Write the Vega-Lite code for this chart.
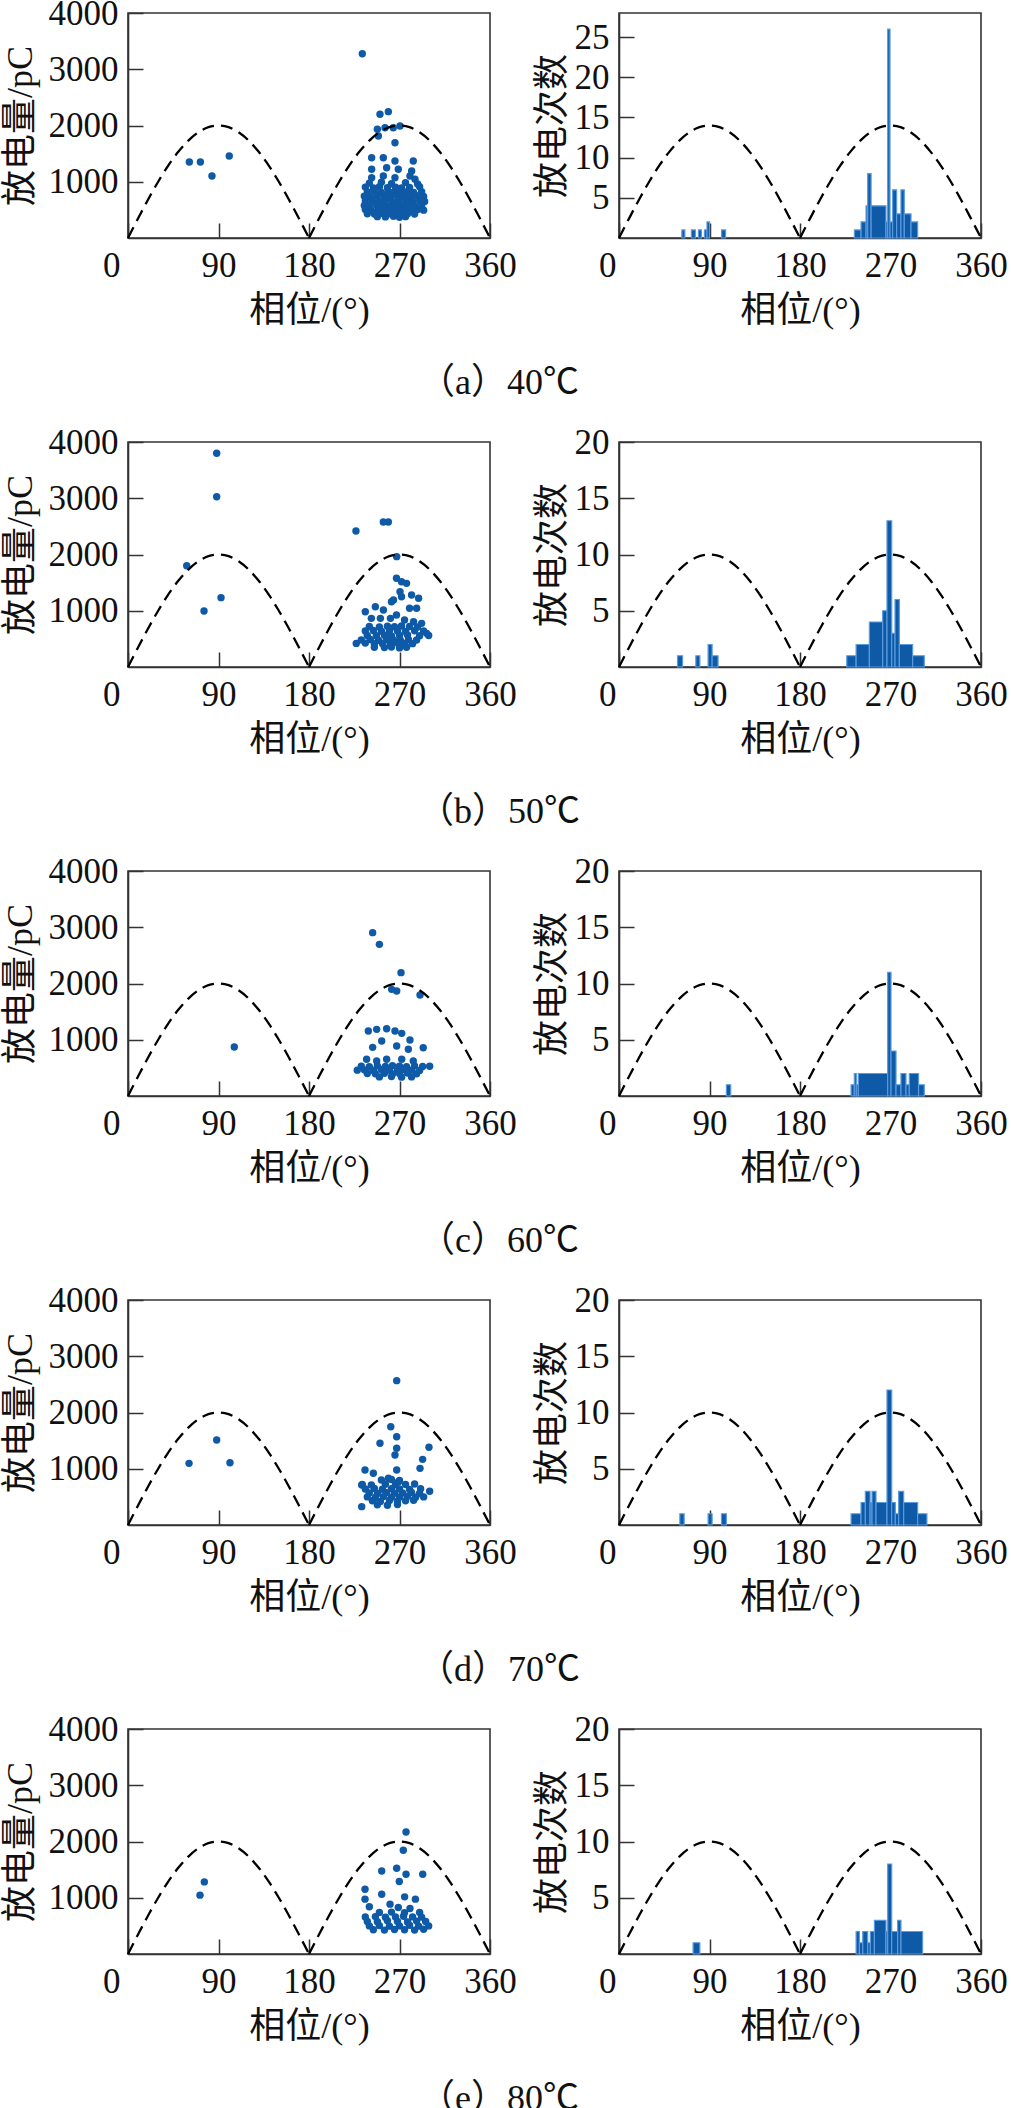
{
"$schema":"https://vega.github.io/schema/vega-lite/v6.json",
"background":"white",
"padding":{"left":1,"top":-5,"right":0,"bottom":0},
"autosize":{"type":"pad"},
"config":{
 "view":{"stroke":"#333","strokeWidth":1.6},
 "axis":{"grid":false,"labelFont":"'Liberation Serif', 'Times New Roman', serif","labelFontSize":35,"labelColor":"#111","titleFont":"'Liberation Serif', 'Times New Roman', 'Noto Sans CJK SC', serif","titleFontSize":36,"titleFontWeight":"normal","titleColor":"#111","tickColor":"#333","tickSize":-15,"tickWidth":1.5,"labelPadding":25,"domainColor":"#333","domainWidth":1.6,"labelFlush":false,"labelOverlap":false,"format":"d"},
 "title":{"font":"'Liberation Serif', 'Times New Roman', 'Noto Sans CJK SC', serif","fontSize":36,"fontWeight":"normal","color":"#111"}
},
"datasets":{
"sine":[
{"hump":1,"phase":0,"q":0,"c14":0,"c10":0},{"hump":1,"phase":10,"q":347,"c14":2.43,"c10":1.74},{"hump":1,"phase":20,"q":684,"c14":4.79,"c10":3.42},{"hump":1,"phase":30,"q":1000,"c14":7,"c10":5},{"hump":1,"phase":40,"q":1286,"c14":9,"c10":6.43},{"hump":1,"phase":50,"q":1532,"c14":10.72,"c10":7.66},{"hump":1,"phase":60,"q":1732,"c14":12.12,"c10":8.66},{"hump":1,"phase":70,"q":1879,"c14":13.16,"c10":9.4},{"hump":1,"phase":80,"q":1970,"c14":13.79,"c10":9.85},{"hump":1,"phase":90,"q":2000,"c14":14,"c10":10},{"hump":1,"phase":100,"q":1970,"c14":13.79,"c10":9.85},{"hump":1,"phase":110,"q":1879,"c14":13.16,"c10":9.4},{"hump":1,"phase":120,"q":1732,"c14":12.12,"c10":8.66},{"hump":1,"phase":130,"q":1532,"c14":10.72,"c10":7.66},{"hump":1,"phase":140,"q":1286,"c14":9,"c10":6.43},{"hump":1,"phase":150,"q":1000,"c14":7,"c10":5},{"hump":1,"phase":160,"q":684,"c14":4.79,"c10":3.42},{"hump":1,"phase":170,"q":347,"c14":2.43,"c10":1.74},{"hump":1,"phase":180,"q":0,"c14":0,"c10":0},
{"hump":2,"phase":180,"q":0,"c14":0,"c10":0},{"hump":2,"phase":190,"q":347,"c14":2.43,"c10":1.74},{"hump":2,"phase":200,"q":684,"c14":4.79,"c10":3.42},{"hump":2,"phase":210,"q":1000,"c14":7,"c10":5},{"hump":2,"phase":220,"q":1286,"c14":9,"c10":6.43},{"hump":2,"phase":230,"q":1532,"c14":10.72,"c10":7.66},{"hump":2,"phase":240,"q":1732,"c14":12.12,"c10":8.66},{"hump":2,"phase":250,"q":1879,"c14":13.16,"c10":9.4},{"hump":2,"phase":260,"q":1970,"c14":13.79,"c10":9.85},{"hump":2,"phase":270,"q":2000,"c14":14,"c10":10},{"hump":2,"phase":280,"q":1970,"c14":13.79,"c10":9.85},{"hump":2,"phase":290,"q":1879,"c14":13.16,"c10":9.4},{"hump":2,"phase":300,"q":1732,"c14":12.12,"c10":8.66},{"hump":2,"phase":310,"q":1532,"c14":10.72,"c10":7.66},{"hump":2,"phase":320,"q":1286,"c14":9,"c10":6.43},{"hump":2,"phase":330,"q":1000,"c14":7,"c10":5},{"hump":2,"phase":340,"q":684,"c14":4.79,"c10":3.42},{"hump":2,"phase":350,"q":347,"c14":2.43,"c10":1.74},{"hump":2,"phase":360,"q":0,"c14":0,"c10":0}
],
"hist":[
{"g":"a","p0":62.5,"p1":65.5,"n":1},{"g":"a","p0":72,"p1":76,"n":1},{"g":"a","p0":79,"p1":82,"n":1},{"g":"a","p0":85,"p1":87.5,"n":1},{"g":"a","p0":87.5,"p1":90,"n":2},{"g":"a","p0":102,"p1":106,"n":1},
{"g":"a","p0":234.1,"p1":240.7,"n":1},{"g":"a","p0":240.7,"p1":245.7,"n":2},{"g":"a","p0":245.7,"p1":247.3,"n":4},{"g":"a","p0":247.3,"p1":250.7,"n":8},{"g":"a","p0":250.7,"p1":265.5,"n":4},{"g":"a","p0":265.5,"p1":267.2,"n":2},{"g":"a","p0":267.2,"p1":269.5,"n":26},{"g":"a","p0":269.5,"p1":272.1,"n":2},{"g":"a","p0":272.1,"p1":276.1,"n":6},{"g":"a","p0":276.1,"p1":280.4,"n":3},{"g":"a","p0":280.4,"p1":283.7,"n":6},{"g":"a","p0":283.7,"p1":290.4,"n":3},{"g":"a","p0":290.4,"p1":297,"n":2},
{"g":"b","p0":58.2,"p1":63.2,"n":1},{"g":"b","p0":76.4,"p1":80.4,"n":1},{"g":"b","p0":88.6,"p1":92.6,"n":2},{"g":"b","p0":92.6,"p1":98.5,"n":1},
{"g":"b","p0":226.5,"p1":235.8,"n":1},{"g":"b","p0":235.8,"p1":249,"n":2},{"g":"b","p0":249,"p1":262.2,"n":4},{"g":"b","p0":262.2,"p1":266.5,"n":5},{"g":"b","p0":266.5,"p1":271.2,"n":13},{"g":"b","p0":271.2,"p1":274.5,"n":3},{"g":"b","p0":274.5,"p1":278.8,"n":6},{"g":"b","p0":278.8,"p1":292,"n":2},{"g":"b","p0":292,"p1":303.6,"n":1},
{"g":"c","p0":106.8,"p1":111.1,"n":1},
{"g":"c","p0":230.8,"p1":234,"n":1},{"g":"c","p0":234,"p1":236,"n":2},{"g":"c","p0":236,"p1":238,"n":1},{"g":"c","p0":238,"p1":267.2,"n":2},{"g":"c","p0":267.2,"p1":270.5,"n":11},{"g":"c","p0":270.5,"p1":275.5,"n":4},{"g":"c","p0":275.5,"p1":280.4,"n":1},{"g":"c","p0":280.4,"p1":285.4,"n":2},{"g":"c","p0":285.4,"p1":288.7,"n":1},{"g":"c","p0":288.7,"p1":297.9,"n":2},{"g":"c","p0":297.9,"p1":303.6,"n":1},
{"g":"d","p0":60.5,"p1":64.8,"n":1},{"g":"d","p0":88.6,"p1":92.6,"n":1},{"g":"d","p0":101.9,"p1":106.8,"n":1},
{"g":"d","p0":230.8,"p1":240.7,"n":1},{"g":"d","p0":240.7,"p1":245,"n":2},{"g":"d","p0":245,"p1":249.7,"n":3},{"g":"d","p0":249.7,"p1":251.6,"n":2},{"g":"d","p0":251.6,"p1":255.6,"n":3},{"g":"d","p0":255.6,"p1":266.5,"n":2},{"g":"d","p0":266.5,"p1":271.2,"n":12},{"g":"d","p0":271.2,"p1":274.8,"n":2},{"g":"d","p0":274.8,"p1":278.1,"n":1},{"g":"d","p0":278.1,"p1":283.1,"n":3},{"g":"d","p0":283.1,"p1":297,"n":2},{"g":"d","p0":297,"p1":306.2,"n":1},
{"g":"e","p0":73.7,"p1":80.4,"n":1},
{"g":"e","p0":235.8,"p1":239.1,"n":2},{"g":"e","p0":239.1,"p1":242.4,"n":1},{"g":"e","p0":242.4,"p1":247.3,"n":2},{"g":"e","p0":247.3,"p1":250,"n":1},{"g":"e","p0":250,"p1":254,"n":2},{"g":"e","p0":254,"p1":265.5,"n":3},{"g":"e","p0":265.5,"p1":267.2,"n":2},{"g":"e","p0":267.2,"p1":271.2,"n":8},{"g":"e","p0":271.2,"p1":277.1,"n":2},{"g":"e","p0":277.1,"p1":280.4,"n":3},{"g":"e","p0":280.4,"p1":301.9,"n":2}
],
"scatter":[
{"g":"a","phase":233,"q":3276},{"g":"a","phase":61,"q":1351},{"g":"a","phase":72,"q":1351},{"g":"a","phase":83.5,"q":1102},{"g":"a","phase":100.7,"q":1458},
{"g":"a","phase":250.6,"q":2199},{"g":"a","phase":258.9,"q":2246},{"g":"a","phase":248,"q":1932},{"g":"a","phase":255.6,"q":1961},{"g":"a","phase":263.8,"q":1961},{"g":"a","phase":270.5,"q":1991},{"g":"a","phase":249,"q":1813},{"g":"a","phase":265.5,"q":1694},{"g":"a","phase":242.3,"q":1428},{"g":"a","phase":253.9,"q":1428},{"g":"a","phase":265.5,"q":1369},{"g":"a","phase":283.7,"q":1369},{"g":"a","phase":242.3,"q":1221},{"g":"a","phase":257.2,"q":1250},{"g":"a","phase":268.8,"q":1221},{"g":"a","phase":282.1,"q":1191},{"g":"a","phase":242.3,"q":1072},{"g":"a","phase":253.9,"q":1102},{"g":"a","phase":265.5,"q":1072},{"g":"a","phase":280.4,"q":1102},{"g":"a","phase":285.4,"q":1043},
{"g":"a","phase":240,"q":975},{"g":"a","phase":252,"q":990},{"g":"a","phase":262,"q":965},{"g":"a","phase":276,"q":985},{"g":"a","phase":288,"q":960},
{"g":"a","phase":236,"q":905},{"g":"a","phase":244,"q":890},{"g":"a","phase":250,"q":910},{"g":"a","phase":258,"q":895},{"g":"a","phase":266,"q":905},{"g":"a","phase":272,"q":890},{"g":"a","phase":280,"q":900},{"g":"a","phase":290,"q":910},
{"g":"a","phase":238,"q":820},{"g":"a","phase":245,"q":830},{"g":"a","phase":252,"q":810},{"g":"a","phase":259,"q":825},{"g":"a","phase":264,"q":815},{"g":"a","phase":270,"q":830},{"g":"a","phase":277,"q":820},{"g":"a","phase":284,"q":810},{"g":"a","phase":292,"q":825},
{"g":"a","phase":235,"q":745},{"g":"a","phase":241,"q":735},{"g":"a","phase":248,"q":750},{"g":"a","phase":255,"q":740},{"g":"a","phase":261,"q":730},{"g":"a","phase":268,"q":745},{"g":"a","phase":274,"q":740},{"g":"a","phase":281,"q":735},{"g":"a","phase":287,"q":750},{"g":"a","phase":294,"q":740},
{"g":"a","phase":236,"q":660},{"g":"a","phase":243,"q":670},{"g":"a","phase":250,"q":655},{"g":"a","phase":256,"q":665},{"g":"a","phase":263,"q":650},{"g":"a","phase":269,"q":660},{"g":"a","phase":276,"q":670},{"g":"a","phase":283,"q":655},{"g":"a","phase":290,"q":665},{"g":"a","phase":295,"q":650},
{"g":"a","phase":235,"q":580},{"g":"a","phase":240,"q":575},{"g":"a","phase":247,"q":590},{"g":"a","phase":253,"q":580},{"g":"a","phase":260,"q":570},{"g":"a","phase":266,"q":585},{"g":"a","phase":272,"q":575},{"g":"a","phase":278,"q":590},{"g":"a","phase":285,"q":580},{"g":"a","phase":292,"q":570},
{"g":"a","phase":236,"q":505},{"g":"a","phase":242,"q":495},{"g":"a","phase":249,"q":510},{"g":"a","phase":256,"q":500},{"g":"a","phase":262,"q":490},{"g":"a","phase":268,"q":505},{"g":"a","phase":275,"q":500},{"g":"a","phase":281,"q":495},{"g":"a","phase":288,"q":505},{"g":"a","phase":294,"q":495},
{"g":"a","phase":238,"q":430},{"g":"a","phase":245,"q":425},{"g":"a","phase":252,"q":440},{"g":"a","phase":259,"q":430},{"g":"a","phase":265,"q":420},{"g":"a","phase":271,"q":435},{"g":"a","phase":278,"q":430},{"g":"a","phase":285,"q":425},
{"g":"a","phase":248,"q":380},{"g":"a","phase":256,"q":375},{"g":"a","phase":264,"q":385},{"g":"a","phase":270,"q":370},{"g":"a","phase":276,"q":380},
{"g":"b","phase":88.2,"q":3799},{"g":"b","phase":88.2,"q":3028},{"g":"b","phase":58.4,"q":1801},{"g":"b","phase":75.6,"q":996},{"g":"b","phase":92.5,"q":1233},{"g":"b","phase":226.7,"q":2418},{"g":"b","phase":253.9,"q":2578},{"g":"b","phase":258.9,"q":2578},{"g":"b","phase":267.2,"q":1962},
{"g":"b","phase":267,"q":1577},{"g":"b","phase":272,"q":1517},{"g":"b","phase":277,"q":1487},{"g":"b","phase":270.5,"q":1339},{"g":"b","phase":264,"q":1191},{"g":"b","phase":272,"q":1250},{"g":"b","phase":282,"q":1280},{"g":"b","phase":289,"q":1221},{"g":"b","phase":280,"q":1043},{"g":"b","phase":287,"q":1043},{"g":"b","phase":262,"q":1161},{"g":"b","phase":246,"q":1072},{"g":"b","phase":254,"q":1013},{"g":"b","phase":236,"q":983},{"g":"b","phase":242,"q":865},{"g":"b","phase":251,"q":865},{"g":"b","phase":261,"q":865},{"g":"b","phase":267,"q":924},{"g":"b","phase":275,"q":835},{"g":"b","phase":284,"q":805},{"g":"b","phase":292,"q":776},{"g":"b","phase":297,"q":598},
{"g":"b","phase":240,"q":720},{"g":"b","phase":250,"q":710},{"g":"b","phase":258,"q":725},{"g":"b","phase":265,"q":715},{"g":"b","phase":272,"q":730},{"g":"b","phase":280,"q":720},{"g":"b","phase":288,"q":710},
{"g":"b","phase":236,"q":640},{"g":"b","phase":244,"q":650},{"g":"b","phase":252,"q":635},{"g":"b","phase":260,"q":645},{"g":"b","phase":268,"q":640},{"g":"b","phase":276,"q":630},{"g":"b","phase":285,"q":645},{"g":"b","phase":294,"q":640},
{"g":"b","phase":238,"q":560},{"g":"b","phase":247,"q":555},{"g":"b","phase":255,"q":565},{"g":"b","phase":262,"q":550},{"g":"b","phase":270,"q":560},{"g":"b","phase":278,"q":570},{"g":"b","phase":290,"q":555},{"g":"b","phase":299,"q":560},
{"g":"b","phase":232,"q":480},{"g":"b","phase":241,"q":490},{"g":"b","phase":249,"q":475},{"g":"b","phase":257,"q":485},{"g":"b","phase":264,"q":480},{"g":"b","phase":271,"q":470},{"g":"b","phase":279,"q":485},{"g":"b","phase":287,"q":480},
{"g":"b","phase":227,"q":420},{"g":"b","phase":236,"q":425},{"g":"b","phase":245,"q":415},{"g":"b","phase":253,"q":420},{"g":"b","phase":261,"q":410},{"g":"b","phase":268,"q":425},{"g":"b","phase":275,"q":420},{"g":"b","phase":283,"q":415},
{"g":"b","phase":245,"q":350},{"g":"b","phase":255,"q":345},{"g":"b","phase":262,"q":355},{"g":"b","phase":270,"q":340},{"g":"b","phase":277,"q":350},
{"g":"c","phase":105.7,"q":871},{"g":"c","phase":243.3,"q":2904},{"g":"c","phase":250,"q":2696},{"g":"c","phase":271.5,"q":2193},{"g":"c","phase":262.2,"q":1896},{"g":"c","phase":267.2,"q":1867},{"g":"c","phase":290.4,"q":1796},
{"g":"c","phase":239,"q":1155},{"g":"c","phase":247.3,"q":1185},{"g":"c","phase":257.2,"q":1197},{"g":"c","phase":265.5,"q":1155},{"g":"c","phase":272.2,"q":1114},{"g":"c","phase":280.4,"q":996},{"g":"c","phase":293.6,"q":859},{"g":"c","phase":243.3,"q":865},{"g":"c","phase":252.3,"q":978},{"g":"c","phase":267.2,"q":889},{"g":"c","phase":278.8,"q":830},{"g":"c","phase":237.3,"q":652},{"g":"c","phase":247.3,"q":622},{"g":"c","phase":257.2,"q":652},{"g":"c","phase":272.2,"q":652},{"g":"c","phase":283.7,"q":622},
{"g":"c","phase":232,"q":530},{"g":"c","phase":240,"q":520},{"g":"c","phase":248,"q":535},{"g":"c","phase":256,"q":525},{"g":"c","phase":263,"q":540},{"g":"c","phase":270,"q":530},{"g":"c","phase":277,"q":520},{"g":"c","phase":285,"q":535},{"g":"c","phase":293,"q":525},{"g":"c","phase":300,"q":530},
{"g":"c","phase":228,"q":460},{"g":"c","phase":235,"q":465},{"g":"c","phase":244,"q":455},{"g":"c","phase":252,"q":470},{"g":"c","phase":260,"q":460},{"g":"c","phase":268,"q":450},{"g":"c","phase":275,"q":465},{"g":"c","phase":282,"q":460},{"g":"c","phase":290,"q":455},
{"g":"c","phase":238,"q":400},{"g":"c","phase":246,"q":395},{"g":"c","phase":255,"q":405},{"g":"c","phase":263,"q":390},{"g":"c","phase":270,"q":400},{"g":"c","phase":278,"q":410},{"g":"c","phase":287,"q":395},
{"g":"c","phase":250,"q":340},{"g":"c","phase":262,"q":345},{"g":"c","phase":272,"q":335},{"g":"c","phase":282,"q":340},
{"g":"d","phase":60.7,"q":1096},{"g":"d","phase":88.2,"q":1511},{"g":"d","phase":101.4,"q":1108},{"g":"d","phase":267.2,"q":2566},{"g":"d","phase":261.3,"q":1748},{"g":"d","phase":267.2,"q":1570},{"g":"d","phase":250.6,"q":1452},{"g":"d","phase":267.2,"q":1363},{"g":"d","phase":265.5,"q":1244},{"g":"d","phase":299.3,"q":1381},{"g":"d","phase":293,"q":1167},{"g":"d","phase":290.4,"q":1007},{"g":"d","phase":235.7,"q":978},{"g":"d","phase":244,"q":919},{"g":"d","phase":267.2,"q":978},{"g":"d","phase":232.4,"q":711},{"g":"d","phase":232.4,"q":326},{"g":"d","phase":259,"q":830},{"g":"d","phase":269,"q":770},
{"g":"d","phase":252,"q":800},{"g":"d","phase":262,"q":810},{"g":"d","phase":270,"q":790},
{"g":"d","phase":233,"q":720},{"g":"d","phase":242,"q":710},{"g":"d","phase":256,"q":725},{"g":"d","phase":266,"q":715},{"g":"d","phase":276,"q":720},{"g":"d","phase":285,"q":730},
{"g":"d","phase":236,"q":640},{"g":"d","phase":245,"q":650},{"g":"d","phase":253,"q":635},{"g":"d","phase":262,"q":645},{"g":"d","phase":270,"q":640},{"g":"d","phase":280,"q":630},{"g":"d","phase":291,"q":645},
{"g":"d","phase":240,"q":570},{"g":"d","phase":248,"q":560},{"g":"d","phase":257,"q":575},{"g":"d","phase":265,"q":565},{"g":"d","phase":273,"q":570},{"g":"d","phase":282,"q":580},{"g":"d","phase":290,"q":565},{"g":"d","phase":300,"q":600},
{"g":"d","phase":238,"q":500},{"g":"d","phase":246,"q":490},{"g":"d","phase":254,"q":505},{"g":"d","phase":262,"q":495},{"g":"d","phase":270,"q":500},{"g":"d","phase":278,"q":510},{"g":"d","phase":286,"q":495},{"g":"d","phase":294,"q":500},
{"g":"d","phase":243,"q":430},{"g":"d","phase":251,"q":420},{"g":"d","phase":260,"q":435},{"g":"d","phase":268,"q":425},{"g":"d","phase":276,"q":430},{"g":"d","phase":284,"q":440},
{"g":"d","phase":248,"q":360},{"g":"d","phase":258,"q":350},{"g":"d","phase":268,"q":365},
{"g":"e","phase":75.9,"q":1282},{"g":"e","phase":71.6,"q":1046},{"g":"e","phase":276.5,"q":2168},{"g":"e","phase":273.8,"q":1843},{"g":"e","phase":267.2,"q":1524},{"g":"e","phase":276.5,"q":1418},{"g":"e","phase":252.3,"q":1477},{"g":"e","phase":293.1,"q":1418},{"g":"e","phase":269.8,"q":1288},{"g":"e","phase":235.7,"q":1152},{"g":"e","phase":235.7,"q":975},{"g":"e","phase":252.3,"q":1063},{"g":"e","phase":275.1,"q":1016},{"g":"e","phase":285.8,"q":975},{"g":"e","phase":240,"q":839},{"g":"e","phase":260.6,"q":886},{"g":"e","phase":268.8,"q":827},{"g":"e","phase":280.4,"q":809},
{"g":"e","phase":250,"q":740},{"g":"e","phase":262,"q":745},{"g":"e","phase":275,"q":735},{"g":"e","phase":290,"q":740},
{"g":"e","phase":236,"q":660},{"g":"e","phase":246,"q":665},{"g":"e","phase":256,"q":655},{"g":"e","phase":266,"q":660},{"g":"e","phase":274,"q":670},{"g":"e","phase":283,"q":660},{"g":"e","phase":292,"q":655},
{"g":"e","phase":238,"q":580},{"g":"e","phase":248,"q":575},{"g":"e","phase":258,"q":590},{"g":"e","phase":268,"q":580},{"g":"e","phase":278,"q":570},{"g":"e","phase":287,"q":585},{"g":"e","phase":296,"q":580},
{"g":"e","phase":240,"q":500},{"g":"e","phase":250,"q":505},{"g":"e","phase":260,"q":495},{"g":"e","phase":270,"q":500},{"g":"e","phase":280,"q":510},{"g":"e","phase":289,"q":495},{"g":"e","phase":299,"q":500},
{"g":"e","phase":244,"q":430},{"g":"e","phase":255,"q":425},{"g":"e","phase":265,"q":435},{"g":"e","phase":275,"q":430},{"g":"e","phase":285,"q":425},{"g":"e","phase":294,"q":440}
]
},
"columns":2,
"bounds":"flush",
"spacing":{"row":204,"column":129},
"concat":[
{"width":362,"height":225,"title":{"text":"（a）40℃","orient":"bottom","anchor":"middle","frame":"group","dx":190,"offset":38},
 "layer":[
 {"data":{"name":"scatter"},"transform":[{"filter":"datum.g==='a'"}],"mark":{"type":"circle","size":55,"color":"#0e5aa7","opacity":1},
  "encoding":{"x":{"field":"phase","type":"quantitative","title":"相位/(°)","scale":{"domain":[0,360],"nice":false},"axis":{"values":[0,90,180,270,360],"titlePadding":10,"labelAlign":{"condition":{"test":"datum.value===0","value":"right"},"value":"center"},"labelOffset":{"condition":{"test":"datum.value===0","value":-8},"value":0}}},
   "y":{"field":"q","type":"quantitative","title":"放电量/pC","scale":{"domain":[0,4000],"nice":false},"axis":{"values":[1000,2000,3000,4000],"titlePadding":9}}}},
 {"data":{"name":"sine"},"mark":{"type":"line","color":"#000","strokeDash":[12,7],"strokeWidth":2.3,"interpolate":"monotone"},
  "encoding":{"x":{"field":"phase","type":"quantitative","title":"相位/(°)"},"y":{"field":"q","type":"quantitative","title":"放电量/pC"},"detail":{"field":"hump"}}}
 ]},
{"width":362,"height":225,
 "layer":[
 {"data":{"name":"hist"},"transform":[{"filter":"datum.g==='a'"}],"mark":{"type":"rect","color":"#0e5aa7","stroke":"#5a9ade","strokeWidth":1.2},
  "encoding":{"x":{"field":"p0","type":"quantitative","title":"相位/(°)","scale":{"domain":[0,360],"nice":false},"axis":{"values":[0,90,180,270,360],"titlePadding":10,"labelAlign":{"condition":{"test":"datum.value===0","value":"right"},"value":"center"},"labelOffset":{"condition":{"test":"datum.value===0","value":-3},"value":0}}},
   "x2":{"field":"p1"},
   "y":{"field":"n","type":"quantitative","title":"放电次数","scale":{"domain":[0,28],"nice":false},"axis":{"values":[5,10,15,20,25],"titlePadding":3}},
   "y2":{"datum":0}}},
 {"data":{"name":"sine"},"mark":{"type":"line","color":"#000","strokeDash":[12,7],"strokeWidth":2.3,"interpolate":"monotone"},
  "encoding":{"x":{"field":"phase","type":"quantitative","title":"相位/(°)"},"y":{"field":"c14","type":"quantitative","title":"放电次数"},"detail":{"field":"hump"}}}
 ]},
{"width":362,"height":225,"title":{"text":"（b）50℃","orient":"bottom","anchor":"middle","frame":"group","dx":190,"offset":38},
 "layer":[
 {"data":{"name":"scatter"},"transform":[{"filter":"datum.g==='b'"}],"mark":{"type":"circle","size":55,"color":"#0e5aa7","opacity":1},
  "encoding":{"x":{"field":"phase","type":"quantitative","title":"相位/(°)","scale":{"domain":[0,360],"nice":false},"axis":{"values":[0,90,180,270,360],"titlePadding":10,"labelAlign":{"condition":{"test":"datum.value===0","value":"right"},"value":"center"},"labelOffset":{"condition":{"test":"datum.value===0","value":-8},"value":0}}},
   "y":{"field":"q","type":"quantitative","title":"放电量/pC","scale":{"domain":[0,4000],"nice":false},"axis":{"values":[1000,2000,3000,4000],"titlePadding":9}}}},
 {"data":{"name":"sine"},"mark":{"type":"line","color":"#000","strokeDash":[12,7],"strokeWidth":2.3,"interpolate":"monotone"},
  "encoding":{"x":{"field":"phase","type":"quantitative","title":"相位/(°)"},"y":{"field":"q","type":"quantitative","title":"放电量/pC"},"detail":{"field":"hump"}}}
 ]},
{"width":362,"height":225,
 "layer":[
 {"data":{"name":"hist"},"transform":[{"filter":"datum.g==='b'"}],"mark":{"type":"rect","color":"#0e5aa7","stroke":"#5a9ade","strokeWidth":1.2},
  "encoding":{"x":{"field":"p0","type":"quantitative","title":"相位/(°)","scale":{"domain":[0,360],"nice":false},"axis":{"values":[0,90,180,270,360],"titlePadding":10,"labelAlign":{"condition":{"test":"datum.value===0","value":"right"},"value":"center"},"labelOffset":{"condition":{"test":"datum.value===0","value":-3},"value":0}}},
   "x2":{"field":"p1"},
   "y":{"field":"n","type":"quantitative","title":"放电次数","scale":{"domain":[0,20],"nice":false},"axis":{"values":[5,10,15,20],"titlePadding":3}},
   "y2":{"datum":0}}},
 {"data":{"name":"sine"},"mark":{"type":"line","color":"#000","strokeDash":[12,7],"strokeWidth":2.3,"interpolate":"monotone"},
  "encoding":{"x":{"field":"phase","type":"quantitative","title":"相位/(°)"},"y":{"field":"c10","type":"quantitative","title":"放电次数"},"detail":{"field":"hump"}}}
 ]},
{"width":362,"height":225,"title":{"text":"（c）60℃","orient":"bottom","anchor":"middle","frame":"group","dx":190,"offset":38},
 "layer":[
 {"data":{"name":"scatter"},"transform":[{"filter":"datum.g==='c'"}],"mark":{"type":"circle","size":55,"color":"#0e5aa7","opacity":1},
  "encoding":{"x":{"field":"phase","type":"quantitative","title":"相位/(°)","scale":{"domain":[0,360],"nice":false},"axis":{"values":[0,90,180,270,360],"titlePadding":10,"labelAlign":{"condition":{"test":"datum.value===0","value":"right"},"value":"center"},"labelOffset":{"condition":{"test":"datum.value===0","value":-8},"value":0}}},
   "y":{"field":"q","type":"quantitative","title":"放电量/pC","scale":{"domain":[0,4000],"nice":false},"axis":{"values":[1000,2000,3000,4000],"titlePadding":9}}}},
 {"data":{"name":"sine"},"mark":{"type":"line","color":"#000","strokeDash":[12,7],"strokeWidth":2.3,"interpolate":"monotone"},
  "encoding":{"x":{"field":"phase","type":"quantitative","title":"相位/(°)"},"y":{"field":"q","type":"quantitative","title":"放电量/pC"},"detail":{"field":"hump"}}}
 ]},
{"width":362,"height":225,
 "layer":[
 {"data":{"name":"hist"},"transform":[{"filter":"datum.g==='c'"}],"mark":{"type":"rect","color":"#0e5aa7","stroke":"#5a9ade","strokeWidth":1.2},
  "encoding":{"x":{"field":"p0","type":"quantitative","title":"相位/(°)","scale":{"domain":[0,360],"nice":false},"axis":{"values":[0,90,180,270,360],"titlePadding":10,"labelAlign":{"condition":{"test":"datum.value===0","value":"right"},"value":"center"},"labelOffset":{"condition":{"test":"datum.value===0","value":-3},"value":0}}},
   "x2":{"field":"p1"},
   "y":{"field":"n","type":"quantitative","title":"放电次数","scale":{"domain":[0,20],"nice":false},"axis":{"values":[5,10,15,20],"titlePadding":3}},
   "y2":{"datum":0}}},
 {"data":{"name":"sine"},"mark":{"type":"line","color":"#000","strokeDash":[12,7],"strokeWidth":2.3,"interpolate":"monotone"},
  "encoding":{"x":{"field":"phase","type":"quantitative","title":"相位/(°)"},"y":{"field":"c10","type":"quantitative","title":"放电次数"},"detail":{"field":"hump"}}}
 ]},
{"width":362,"height":225,"title":{"text":"（d）70℃","orient":"bottom","anchor":"middle","frame":"group","dx":190,"offset":38},
 "layer":[
 {"data":{"name":"scatter"},"transform":[{"filter":"datum.g==='d'"}],"mark":{"type":"circle","size":55,"color":"#0e5aa7","opacity":1},
  "encoding":{"x":{"field":"phase","type":"quantitative","title":"相位/(°)","scale":{"domain":[0,360],"nice":false},"axis":{"values":[0,90,180,270,360],"titlePadding":10,"labelAlign":{"condition":{"test":"datum.value===0","value":"right"},"value":"center"},"labelOffset":{"condition":{"test":"datum.value===0","value":-8},"value":0}}},
   "y":{"field":"q","type":"quantitative","title":"放电量/pC","scale":{"domain":[0,4000],"nice":false},"axis":{"values":[1000,2000,3000,4000],"titlePadding":9}}}},
 {"data":{"name":"sine"},"mark":{"type":"line","color":"#000","strokeDash":[12,7],"strokeWidth":2.3,"interpolate":"monotone"},
  "encoding":{"x":{"field":"phase","type":"quantitative","title":"相位/(°)"},"y":{"field":"q","type":"quantitative","title":"放电量/pC"},"detail":{"field":"hump"}}}
 ]},
{"width":362,"height":225,
 "layer":[
 {"data":{"name":"hist"},"transform":[{"filter":"datum.g==='d'"}],"mark":{"type":"rect","color":"#0e5aa7","stroke":"#5a9ade","strokeWidth":1.2},
  "encoding":{"x":{"field":"p0","type":"quantitative","title":"相位/(°)","scale":{"domain":[0,360],"nice":false},"axis":{"values":[0,90,180,270,360],"titlePadding":10,"labelAlign":{"condition":{"test":"datum.value===0","value":"right"},"value":"center"},"labelOffset":{"condition":{"test":"datum.value===0","value":-3},"value":0}}},
   "x2":{"field":"p1"},
   "y":{"field":"n","type":"quantitative","title":"放电次数","scale":{"domain":[0,20],"nice":false},"axis":{"values":[5,10,15,20],"titlePadding":3}},
   "y2":{"datum":0}}},
 {"data":{"name":"sine"},"mark":{"type":"line","color":"#000","strokeDash":[12,7],"strokeWidth":2.3,"interpolate":"monotone"},
  "encoding":{"x":{"field":"phase","type":"quantitative","title":"相位/(°)"},"y":{"field":"c10","type":"quantitative","title":"放电次数"},"detail":{"field":"hump"}}}
 ]},
{"width":362,"height":225,"title":{"text":"（e）80℃","orient":"bottom","anchor":"middle","frame":"group","dx":190,"offset":38},
 "layer":[
 {"data":{"name":"scatter"},"transform":[{"filter":"datum.g==='e'"}],"mark":{"type":"circle","size":55,"color":"#0e5aa7","opacity":1},
  "encoding":{"x":{"field":"phase","type":"quantitative","title":"相位/(°)","scale":{"domain":[0,360],"nice":false},"axis":{"values":[0,90,180,270,360],"titlePadding":10,"labelAlign":{"condition":{"test":"datum.value===0","value":"right"},"value":"center"},"labelOffset":{"condition":{"test":"datum.value===0","value":-8},"value":0}}},
   "y":{"field":"q","type":"quantitative","title":"放电量/pC","scale":{"domain":[0,4000],"nice":false},"axis":{"values":[1000,2000,3000,4000],"titlePadding":9}}}},
 {"data":{"name":"sine"},"mark":{"type":"line","color":"#000","strokeDash":[12,7],"strokeWidth":2.3,"interpolate":"monotone"},
  "encoding":{"x":{"field":"phase","type":"quantitative","title":"相位/(°)"},"y":{"field":"q","type":"quantitative","title":"放电量/pC"},"detail":{"field":"hump"}}}
 ]},
{"width":362,"height":225,
 "layer":[
 {"data":{"name":"hist"},"transform":[{"filter":"datum.g==='e'"}],"mark":{"type":"rect","color":"#0e5aa7","stroke":"#5a9ade","strokeWidth":1.2},
  "encoding":{"x":{"field":"p0","type":"quantitative","title":"相位/(°)","scale":{"domain":[0,360],"nice":false},"axis":{"values":[0,90,180,270,360],"titlePadding":10,"labelAlign":{"condition":{"test":"datum.value===0","value":"right"},"value":"center"},"labelOffset":{"condition":{"test":"datum.value===0","value":-3},"value":0}}},
   "x2":{"field":"p1"},
   "y":{"field":"n","type":"quantitative","title":"放电次数","scale":{"domain":[0,20],"nice":false},"axis":{"values":[5,10,15,20],"titlePadding":3}},
   "y2":{"datum":0}}},
 {"data":{"name":"sine"},"mark":{"type":"line","color":"#000","strokeDash":[12,7],"strokeWidth":2.3,"interpolate":"monotone"},
  "encoding":{"x":{"field":"phase","type":"quantitative","title":"相位/(°)"},"y":{"field":"c10","type":"quantitative","title":"放电次数"},"detail":{"field":"hump"}}}
 ]}
]
}
